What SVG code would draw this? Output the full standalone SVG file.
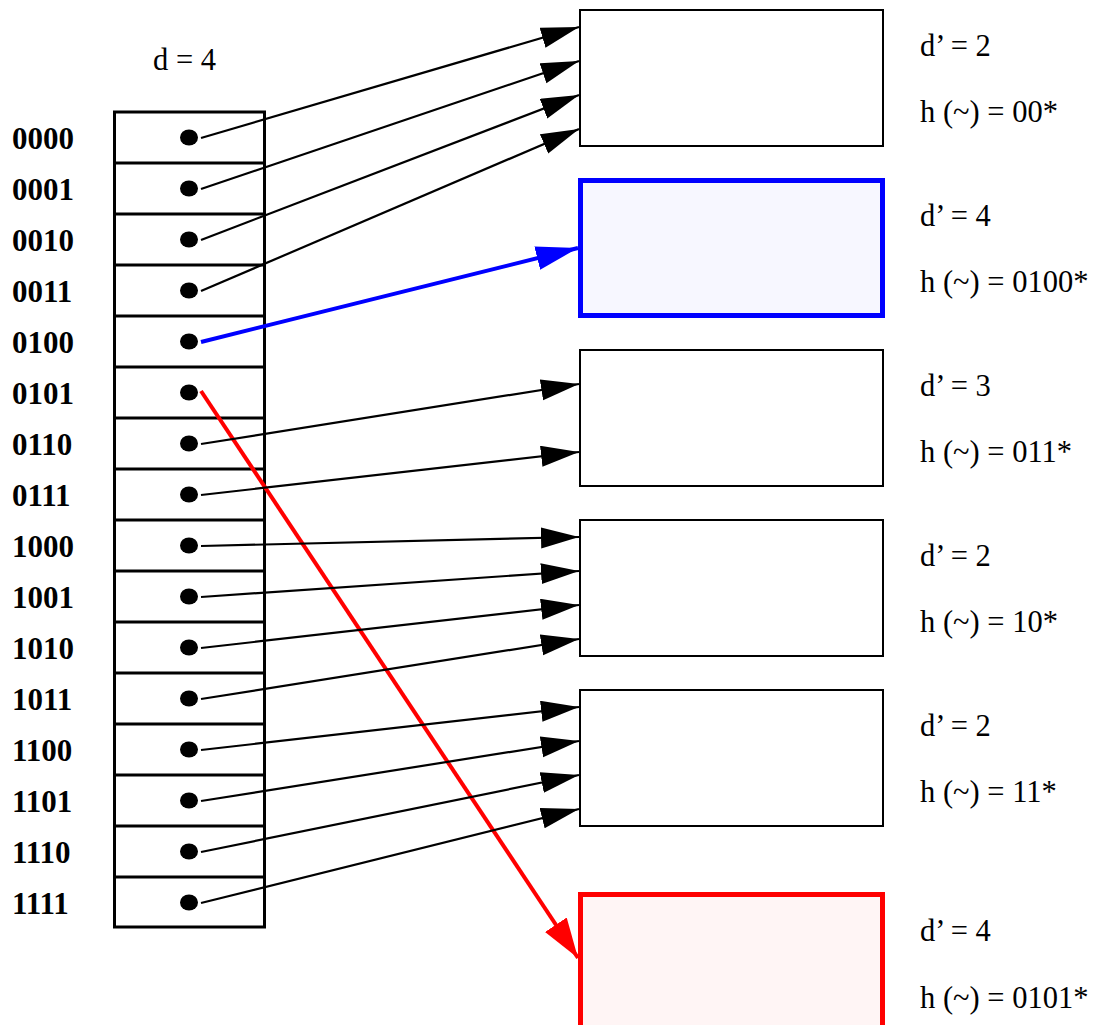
<svg xmlns="http://www.w3.org/2000/svg" width="1103" height="1025" viewBox="0 0 1103 1025">
<style>
  .lbl { font-family: "Liberation Serif", "Times New Roman", serif; font-size: 31px; font-weight: bold; fill: #000; }
  .txt { font-family: "Liberation Serif", "Times New Roman", serif; font-size: 30.5px; fill: #000; }
  .dir { fill: #fff; stroke: #000; stroke-width: 3; }
  .sep { stroke: #000; stroke-width: 3; }
  .dot { fill: #000; }
  .bucket { fill: #fff; stroke: #000; stroke-width: 2; }
  .edge { fill: none; stroke: #000; stroke-width: 2.2; marker-end: url(#ah); }
</style>
<defs>
  <marker id="ah" markerUnits="userSpaceOnUse" markerWidth="40" markerHeight="22" refX="38" refY="10.5" orient="auto">
    <path d="M0,0 L38,10.5 L0,21 Z" fill="#000"/>
  </marker>
  <marker id="ahb" markerUnits="userSpaceOnUse" markerWidth="44" markerHeight="26" refX="42" refY="12" orient="auto">
    <path d="M0,0 L42,12 L0,24 Z" fill="#0000ff"/>
  </marker>
  <marker id="ahr" markerUnits="userSpaceOnUse" markerWidth="42" markerHeight="28" refX="40" refY="13" orient="auto">
    <path d="M0,0 L40,13 L0,26 Z" fill="#ff0000"/>
  </marker>
</defs>
<rect width="1103" height="1025" fill="#fff"/>

<g id="directory">
  <text class="txt" x="153" y="70">d = 4</text>
  <rect class="dir" x="114.5" y="112" width="150" height="815"/>
  <g>
    <line class="sep" x1="114.5" y1="163" x2="264.5" y2="163"/>
    <line class="sep" x1="114.5" y1="214" x2="264.5" y2="214"/>
    <line class="sep" x1="114.5" y1="265" x2="264.5" y2="265"/>
    <line class="sep" x1="114.5" y1="316" x2="264.5" y2="316"/>
    <line class="sep" x1="114.5" y1="367" x2="264.5" y2="367"/>
    <line class="sep" x1="114.5" y1="418" x2="264.5" y2="418"/>
    <line class="sep" x1="114.5" y1="469" x2="264.5" y2="469"/>
    <line class="sep" x1="114.5" y1="520" x2="264.5" y2="520"/>
    <line class="sep" x1="114.5" y1="571" x2="264.5" y2="571"/>
    <line class="sep" x1="114.5" y1="622" x2="264.5" y2="622"/>
    <line class="sep" x1="114.5" y1="673" x2="264.5" y2="673"/>
    <line class="sep" x1="114.5" y1="724" x2="264.5" y2="724"/>
    <line class="sep" x1="114.5" y1="775" x2="264.5" y2="775"/>
    <line class="sep" x1="114.5" y1="826" x2="264.5" y2="826"/>
    <line class="sep" x1="114.5" y1="877" x2="264.5" y2="877"/>
  </g>
  <g>
    <ellipse class="dot" cx="189" cy="137.5" rx="9" ry="8"/>
    <ellipse class="dot" cx="189" cy="188.5" rx="9" ry="8"/>
    <ellipse class="dot" cx="189" cy="239.5" rx="9" ry="8"/>
    <ellipse class="dot" cx="189" cy="290.5" rx="9" ry="8"/>
    <ellipse class="dot" cx="189" cy="341.5" rx="9" ry="8"/>
    <ellipse class="dot" cx="189" cy="392.5" rx="9" ry="8"/>
    <ellipse class="dot" cx="189" cy="443.5" rx="9" ry="8"/>
    <ellipse class="dot" cx="189" cy="494.5" rx="9" ry="8"/>
    <ellipse class="dot" cx="189" cy="545.5" rx="9" ry="8"/>
    <ellipse class="dot" cx="189" cy="596.5" rx="9" ry="8"/>
    <ellipse class="dot" cx="189" cy="647.5" rx="9" ry="8"/>
    <ellipse class="dot" cx="189" cy="698.5" rx="9" ry="8"/>
    <ellipse class="dot" cx="189" cy="749.5" rx="9" ry="8"/>
    <ellipse class="dot" cx="189" cy="800.5" rx="9" ry="8"/>
    <ellipse class="dot" cx="189" cy="851.5" rx="9" ry="8"/>
    <ellipse class="dot" cx="189" cy="902.5" rx="9" ry="8"/>
  </g>
  <g>
    <text class="lbl" x="12" y="148.5">0000</text>
    <text class="lbl" x="12" y="199.5">0001</text>
    <text class="lbl" x="12" y="250.5">0010</text>
    <text class="lbl" x="12" y="301.5">0011</text>
    <text class="lbl" x="12" y="352.5">0100</text>
    <text class="lbl" x="12" y="403.5">0101</text>
    <text class="lbl" x="12" y="454.5">0110</text>
    <text class="lbl" x="12" y="505.5">0111</text>
    <text class="lbl" x="12" y="556.5">1000</text>
    <text class="lbl" x="12" y="607.5">1001</text>
    <text class="lbl" x="12" y="658.5">1010</text>
    <text class="lbl" x="12" y="709.5">1011</text>
    <text class="lbl" x="12" y="760.5">1100</text>
    <text class="lbl" x="12" y="811.5">1101</text>
    <text class="lbl" x="12" y="862.5">1110</text>
    <text class="lbl" x="12" y="913.5">1111</text>
  </g>
</g>

<g id="bucket-00">
  <rect class="bucket" x="580" y="10" width="303" height="136"/>
  <text class="txt" x="920" y="56">d’ = 2</text>
  <text class="txt" x="920" y="122">h (~) = 00*</text>
</g>
<g id="bucket-0100">
  <rect x="580.5" y="180.5" width="302" height="135" fill="#f7f7ff" stroke="#0000ff" stroke-width="5"/>
  <text class="txt" x="920" y="226">d’ = 4</text>
  <text class="txt" x="920" y="292">h (~) = 0100*</text>
</g>
<g id="bucket-011">
  <rect class="bucket" x="580" y="350" width="303" height="136"/>
  <text class="txt" x="920" y="396">d’ = 3</text>
  <text class="txt" x="920" y="462">h (~) = 011*</text>
</g>
<g id="bucket-10">
  <rect class="bucket" x="580" y="520" width="303" height="136"/>
  <text class="txt" x="920" y="566">d’ = 2</text>
  <text class="txt" x="920" y="632">h (~) = 10*</text>
</g>
<g id="bucket-11">
  <rect class="bucket" x="580" y="690" width="303" height="136"/>
  <text class="txt" x="920" y="736">d’ = 2</text>
  <text class="txt" x="920" y="802">h (~) = 11*</text>
</g>
<g id="bucket-0101">
  <rect x="580.5" y="894.5" width="302" height="200" fill="#fff5f5" stroke="#ff0000" stroke-width="5"/>
  <text class="txt" x="920" y="941">d’ = 4</text>
  <text class="txt" x="920" y="1008">h (~) = 0101*</text>
</g>

<g id="connectors">
  <line class="edge" x1="201" y1="138" x2="579" y2="27"/>
  <line class="edge" x1="201" y1="189" x2="579" y2="61"/>
  <line class="edge" x1="201" y1="240" x2="579" y2="95"/>
  <line class="edge" x1="201" y1="291" x2="579" y2="129"/>
  <line x1="201" y1="342" x2="578" y2="248" stroke="#0000ff" stroke-width="4" marker-end="url(#ahb)"/>
  <line x1="201" y1="391" x2="578" y2="958" stroke="#ff0000" stroke-width="4" marker-end="url(#ahr)"/>
  <line class="edge" x1="201" y1="444" x2="579" y2="384"/>
  <line class="edge" x1="201" y1="495" x2="579" y2="452"/>
  <line class="edge" x1="201" y1="546" x2="579" y2="537"/>
  <line class="edge" x1="201" y1="597" x2="579" y2="571"/>
  <line class="edge" x1="201" y1="648" x2="579" y2="605"/>
  <line class="edge" x1="201" y1="699" x2="579" y2="639"/>
  <line class="edge" x1="201" y1="750" x2="579" y2="707"/>
  <line class="edge" x1="201" y1="801" x2="579" y2="741"/>
  <line class="edge" x1="201" y1="852" x2="579" y2="775"/>
  <line class="edge" x1="201" y1="903" x2="579" y2="809"/>
</g>
</svg>
